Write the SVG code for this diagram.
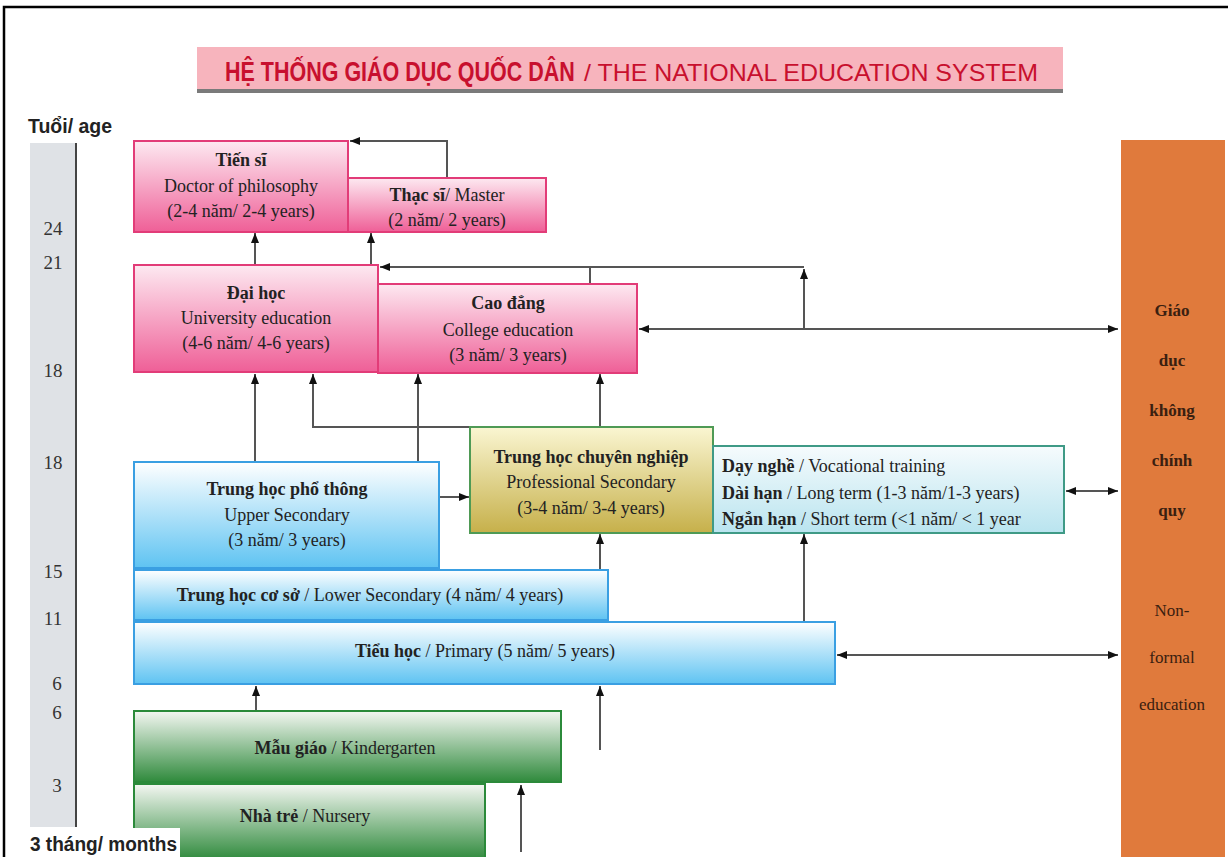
<svg xmlns="http://www.w3.org/2000/svg" width="1232" height="857" viewBox="0 0 1232 857">
<defs>
<linearGradient id="gPink" x1="0" y1="0" x2="0" y2="1"><stop offset="0" stop-color="#fde9f1"/><stop offset="1" stop-color="#ef5f97"/></linearGradient>
<linearGradient id="gBlue" x1="0" y1="0" x2="0" y2="1"><stop offset="0" stop-color="#ffffff"/><stop offset="1" stop-color="#5ec3f2"/></linearGradient>
<linearGradient id="gYel" x1="0" y1="0" x2="0" y2="1"><stop offset="0" stop-color="#faf6d2"/><stop offset="1" stop-color="#c6b04a"/></linearGradient>
<linearGradient id="gCyan" x1="0" y1="0" x2="0" y2="1"><stop offset="0" stop-color="#f6fbfd"/><stop offset="1" stop-color="#b9e4ef"/></linearGradient>
<linearGradient id="gGreen" x1="0" y1="0" x2="0" y2="1"><stop offset="0" stop-color="#f4f7f2"/><stop offset="1" stop-color="#2f8a3c"/></linearGradient>
<marker id="ah" viewBox="0 0 10 8" refX="10" refY="4" markerWidth="10" markerHeight="8" markerUnits="userSpaceOnUse" orient="auto-start-reverse"><path d="M0,0 L10,4 L0,8 z" fill="#111"/></marker>
<style>
.t{font-family:"Liberation Serif","Times New Roman",serif;font-size:18px;fill:#222;text-anchor:middle}
.l{font-family:"Liberation Serif","Times New Roman",serif;font-size:18px;fill:#222}
.b{font-weight:bold}
.age{font-family:"Liberation Serif","Times New Roman",serif;font-size:19px;fill:#333;text-anchor:middle}
.h{font-family:"Liberation Sans",Arial,sans-serif;font-weight:bold;font-size:20px;fill:#222}
.pink{fill:url(#gPink);stroke:#e23c78;stroke-width:2}
.blue{fill:url(#gBlue);stroke:#3a9fe2;stroke-width:2}
.yel{fill:url(#gYel);stroke:#4f9a55;stroke-width:2}
.cyan{fill:url(#gCyan);stroke:#3f9a86;stroke-width:2}
.green{fill:url(#gGreen);stroke:#2b8a3a;stroke-width:2}
.c{fill:none;stroke:#555;stroke-width:2}
.o{font-family:"Liberation Serif","Times New Roman",serif;font-size:17px;fill:#3a2010;text-anchor:middle}
</style>
</defs>
<rect x="0" y="0" width="1232" height="857" fill="#fff"/>
<path d="M4,857 V7 H1228" fill="none" stroke="#000" stroke-width="2.5"/>

<g id="title">
<rect x="197" y="47" width="866" height="44" fill="#f7b4bd"/>
<rect x="197" y="89" width="866" height="4" fill="#7a7a7a"/>
<text x="225" y="0" transform="translate(0,81) scale(1,1.3)" font-family="Liberation Sans,Arial,sans-serif" font-weight="bold" font-size="21.5" fill="#c8102e">HỆ THỐNG GIÁO DỤC QUỐC DÂN</text>
<text x="584" y="81" font-family="Liberation Sans,Arial,sans-serif" font-size="24" fill="#c8102e" textLength="454" lengthAdjust="spacingAndGlyphs">/ THE NATIONAL EDUCATION SYSTEM</text>
</g>

<g id="age-axis">
<rect x="30" y="143" width="46" height="684" fill="#dfe2e6"/>
<line x1="76" y1="143" x2="76" y2="827" stroke="#444" stroke-width="2"/>
<text class="h" x="28" y="133" textLength="84" lengthAdjust="spacingAndGlyphs">Tuổi/ age</text>
<text class="age" x="53" y="235">24</text>
<text class="age" x="53" y="269">21</text>
<text class="age" x="53" y="377">18</text>
<text class="age" x="53" y="469">18</text>
<text class="age" x="53" y="578">15</text>
<text class="age" x="53" y="625">11</text>
<text class="age" x="57" y="690">6</text>
<text class="age" x="57" y="719">6</text>
<text class="age" x="57" y="792">3</text>
</g>

<g id="connectors">
<path class="c" d="M447,178 V141 H350" marker-end="url(#ah)"/>
<path class="c" d="M255,265 V233" marker-end="url(#ah)"/>
<path class="c" d="M371,267 V233" marker-end="url(#ah)"/>
<path class="c" d="M804,267 H380" marker-end="url(#ah)"/>
<path class="c" d="M590,284 V267"/>
<path class="c" d="M804,329 V269" marker-end="url(#ah)"/>
<path class="c" d="M639,329 H1118" marker-start="url(#ah)" marker-end="url(#ah)"/>
<path class="c" d="M255,462 V374" marker-end="url(#ah)"/>
<path class="c" d="M418,462 V374" marker-end="url(#ah)"/>
<path class="c" d="M470,427 H313 V374" marker-end="url(#ah)"/>
<path class="c" d="M600,427 V374" marker-end="url(#ah)"/>
<path class="c" d="M440,497 H469" marker-end="url(#ah)"/>
<path class="c" d="M1066,491 H1118" marker-start="url(#ah)" marker-end="url(#ah)"/>
<path class="c" d="M600,570 V534" marker-end="url(#ah)"/>
<path class="c" d="M804,622 V534" marker-end="url(#ah)"/>
<path class="c" d="M837,655 H1118" marker-start="url(#ah)" marker-end="url(#ah)"/>
<path class="c" d="M256,711 V686" marker-end="url(#ah)"/>
<path class="c" d="M600,750 V686" marker-end="url(#ah)"/>
<path class="c" d="M521,852 V785" marker-end="url(#ah)"/>
</g>

<g id="tien-si">
<rect class="pink" x="134" y="141" width="214" height="91"/>
<text class="t b" x="241" y="166">Tiến sĩ</text>
<text class="t" x="241" y="192">Doctor of philosophy</text>
<text class="t" x="241" y="217">(2-4 năm/ 2-4 years)</text>
</g>
<g id="thac-si">
<rect class="pink" x="348" y="178" width="198" height="54"/>
<text class="t" x="447" y="201"><tspan class="b">Thạc sĩ</tspan>/ Master</text>
<text class="t" x="447" y="226">(2 năm/ 2 years)</text>
</g>
<g id="dai-hoc">
<rect class="pink" x="134" y="265" width="244" height="107"/>
<text class="t b" x="256" y="299">Đại học</text>
<text class="t" x="256" y="324">University education</text>
<text class="t" x="256" y="349">(4-6 năm/ 4-6 years)</text>
</g>
<g id="cao-dang">
<rect class="pink" x="378" y="284" width="259" height="89"/>
<text class="t b" x="508" y="309">Cao đẳng</text>
<text class="t" x="508" y="336">College education</text>
<text class="t" x="508" y="361">(3 năm/ 3 years)</text>
</g>
<g id="thpt">
<rect class="blue" x="134" y="462" width="305" height="106"/>
<text class="t b" x="287" y="495">Trung học phổ thông</text>
<text class="t" x="287" y="521">Upper Secondary</text>
<text class="t" x="287" y="546">(3 năm/ 3 years)</text>
</g>
<g id="thcn">
<rect class="yel" x="470" y="427" width="243" height="106"/>
<text class="t b" x="591" y="463">Trung học chuyên nghiệp</text>
<text class="t" x="591" y="488">Professional Secondary</text>
<text class="t" x="591" y="514">(3-4 năm/ 3-4 years)</text>
</g>
<g id="day-nghe">
<rect class="cyan" x="713" y="446" width="351" height="87"/>
<text class="l" x="722" y="472"><tspan class="b">Dạy nghề</tspan> / Vocational training</text>
<text class="l" x="722" y="499"><tspan class="b">Dài hạn</tspan> / Long term (1-3 năm/1-3 years)</text>
<text class="l" x="722" y="525"><tspan class="b">Ngắn hạn</tspan> / Short term (&lt;1 năm/ &lt; 1 year</text>
</g>
<g id="thcs">
<rect class="blue" x="134" y="570" width="474" height="50"/>
<text class="t" x="370" y="601"><tspan class="b">Trung học cơ sở</tspan> / Lower Secondary (4 năm/ 4 years)</text>
</g>
<g id="tieu-hoc">
<rect class="blue" x="134" y="622" width="701" height="62"/>
<text class="t" x="485" y="657"><tspan class="b">Tiểu học</tspan> / Primary (5 năm/ 5 years)</text>
</g>
<g id="mau-giao">
<rect class="green" x="134" y="711" width="427" height="71"/>
<text class="t" x="345" y="754"><tspan class="b">Mẫu giáo</tspan> / Kindergarten</text>
</g>
<g id="nha-tre">
<rect class="green" x="134" y="784" width="351" height="76"/>
<text class="t" x="305" y="822"><tspan class="b">Nhà trẻ</tspan> / Nursery</text>
</g>
<g id="non-formal">
<rect x="1121" y="140" width="104" height="717" fill="#e07a3c"/>
<text class="o b" x="1172" y="316">Giáo</text>
<text class="o b" x="1172" y="366">dục</text>
<text class="o b" x="1172" y="416">không</text>
<text class="o b" x="1172" y="466">chính</text>
<text class="o b" x="1172" y="516">quy</text>
<text class="o" x="1172" y="616">Non-</text>
<text class="o" x="1172" y="663">formal</text>
<text class="o" x="1172" y="710">education</text>
</g>
<g id="age-start-label">
<rect x="26" y="828" width="154" height="29" fill="#fff"/>
<text class="h" x="30" y="851" textLength="147" lengthAdjust="spacingAndGlyphs">3 tháng/ months</text>
</g>
</svg>
